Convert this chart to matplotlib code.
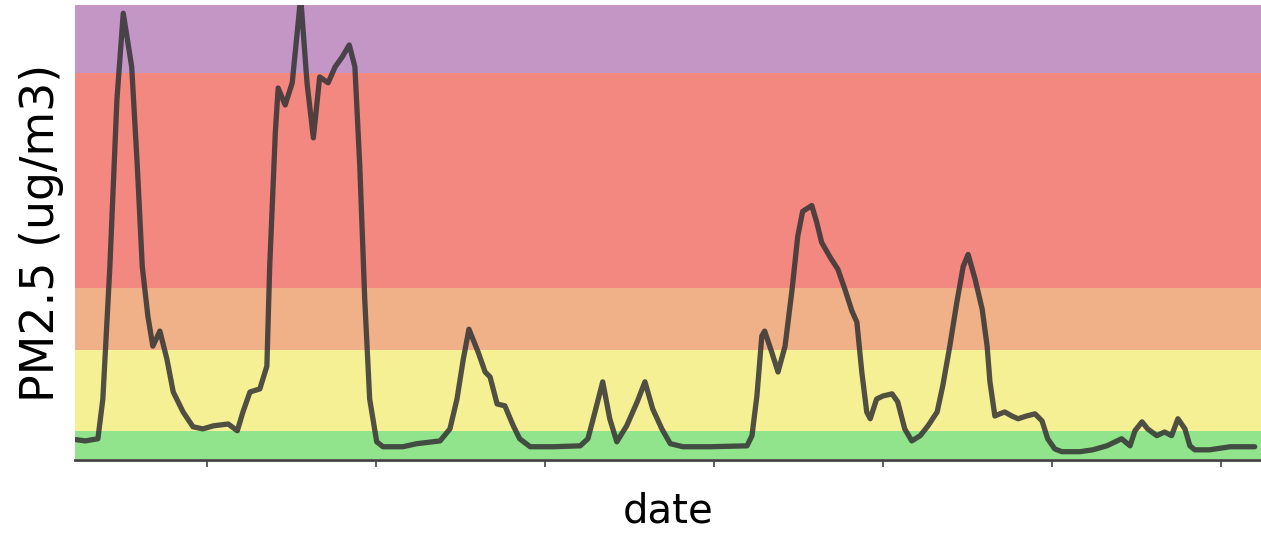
import matplotlib
matplotlib.use("Agg")
import matplotlib.pyplot as plt

# hours relative to midnight of the first labelled day
hours = [-18.6, -17.3, -15.5, -14.8, -13.8, -12.8, -11.9, -10.7, -9.9, -9.2,
         -8.4, -7.7, -6.7, -5.7, -4.8, -3.4, -2.0, -0.6, 0.9, 3.0,
         4.3, 5.1, 6.1, 7.5, 8.5, 8.9, 9.7, 10.1, 11.1, 12.1,
         12.8, 13.3, 14.2, 15.1, 16.0, 17.2, 18.2, 19.2, 20.2, 21.0,
         21.7, 22.4, 23.1, 24.1, 25.0, 27.8, 29.8, 33.1, 34.5, 35.5,
         36.4, 37.2, 38.5, 39.5, 40.2, 41.2, 42.3, 43.5, 44.4, 45.9,
         49.1, 53.0, 54.1, 55.1, 56.2, 57.2, 58.2, 59.6, 61.1, 62.2,
         63.3, 64.6, 65.8, 67.6, 71.4, 76.7, 77.4, 78.1, 78.8, 79.2,
         80.2, 81.1, 82.1, 83.1, 83.9, 84.6, 85.9, 86.6, 87.3, 88.5,
         89.6, 90.6, 91.6, 92.3, 93.0, 93.7, 94.2, 95.1, 96.0, 97.3,
         98.1, 99.1, 100.1, 101.3, 102.4, 103.7, 104.5, 105.5, 106.5, 107.4,
         108.1, 109.1, 110.1, 110.8, 111.2, 111.9, 112.6, 113.3, 114.3, 115.2,
         116.4, 117.6, 118.6, 119.4, 120.4, 121.4, 124.0, 125.8, 127.8, 129.9,
         131.1, 131.8, 132.8, 133.6, 134.9, 136.0, 137.0, 137.9, 138.9, 139.6,
         140.3, 142.4, 145.3, 148.8]
pm25 = [6.2, 5.8, 6.5, 19.4, 62.5, 116.7, 144.8, 127.4, 94.9, 62.5,
        46.3, 36.6, 41.5, 32.4, 21.7, 15.2, 10.4, 9.7, 10.7, 11.3,
        9.1, 15.2, 21.7, 22.7, 30.1, 62.5, 106.0, 120.5, 115.0, 122.2,
        138.4, 150.0, 122.2, 104.3, 124.1, 122.2, 127.4, 130.6, 134.5, 127.4,
        94.9, 51.8, 19.4, 5.5, 3.9, 3.9, 4.9, 5.8, 9.7, 19.4,
        32.4, 42.1, 34.7, 28.2, 26.6, 17.8, 17.2, 10.7, 6.5, 3.9,
        3.9, 4.2, 6.5, 15.2, 25.0, 13.0, 5.5, 10.7, 18.5, 25.0,
        16.2, 9.7, 4.9, 3.9, 3.9, 4.2, 7.5, 20.4, 39.9, 41.5,
        34.7, 28.2, 36.6, 55.1, 72.3, 80.4, 82.3, 76.8, 70.3, 65.5,
        61.6, 55.1, 48.0, 44.4, 28.2, 15.2, 13.0, 19.4, 20.4, 21.1,
        18.5, 9.7, 5.8, 7.5, 10.7, 15.2, 23.7, 36.6, 50.9, 62.5,
        66.4, 58.3, 48.6, 36.6, 25.0, 13.9, 14.6, 15.2, 13.9, 13.0,
        13.9, 14.6, 12.3, 6.5, 3.2, 2.3, 2.3, 2.9, 4.2, 6.5,
        4.2, 9.1, 12.0, 9.7, 7.5, 8.7, 7.5, 13.0, 9.7, 4.2,
        2.9, 2.9, 3.9, 3.9]

# AQI breakpoints (ug/m3) and band colours
band_edges = [0, 9.0, 35.4, 55.4, 125.4, 300]
band_colors = ["#92E48C", "#F5F094", "#F0B088", "#F2887F", "#C396C6"]
day_ticks = [0, 24, 48, 72, 96, 120, 144]

fig = plt.figure(figsize=(12.61, 5.33), dpi=100)
ax = fig.add_axes([0.0595, 0.137, 0.9405, 0.8537])

for i in range(len(band_colors)):
    ax.axhspan(band_edges[i], band_edges[i + 1], color=band_colors[i], lw=0, zorder=0)

ax.plot(hours, pm25, color="#333333", alpha=0.85, lw=3.8, zorder=2,
        solid_joinstyle="round", solid_capstyle="round")

ax.set_xlim(-18.75, 149.7)
ax.set_ylim(-0.4, 147.5)
ax.set_xticks(day_ticks)
ax.set_xticklabels([])
ax.set_yticks([])
ax.tick_params(axis="x", length=5, width=1.2, color="#444444")
for s in ["left", "top", "right"]:
    ax.spines[s].set_visible(False)
ax.spines["bottom"].set_color("#444444")
ax.spines["bottom"].set_linewidth(2)

ax.set_xlabel("date", fontsize=29, labelpad=14)
ax.set_ylabel("PM2.5 (ug/m3)", fontsize=33, labelpad=8)

fig.savefig("out.png", dpi=100)
